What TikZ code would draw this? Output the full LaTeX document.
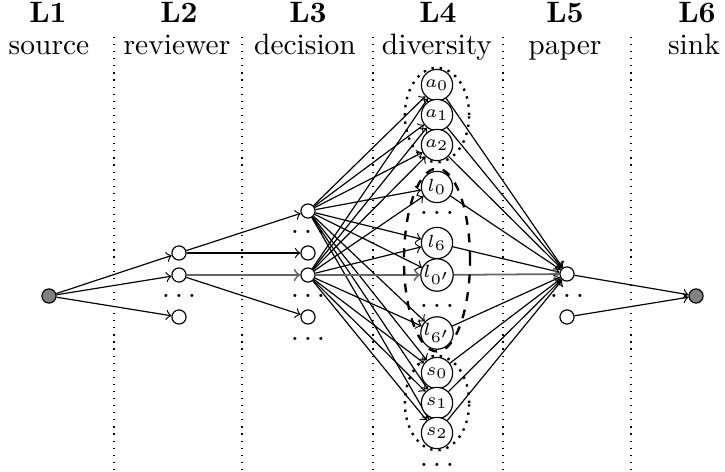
\documentclass[tikz,border=0pt]{standalone}
\usetikzlibrary{backgrounds}
\begin{document}
\begin{tikzpicture}[x=0.339pt,y=-0.339pt,
  big/.style={circle,draw,fill=white,minimum size=10.6pt,inner sep=0pt,font=\fontsize{5.6}{6.5}\selectfont},
  small/.style={circle,draw,fill=white,minimum size=4.8pt,inner sep=0pt},
  term/.style={small,fill=gray},
  edge/.style={->},
  hot/.style={->,draw=black!60,line width=0.6pt},
  sepline/.style={dotted},
  dotsn/.style={inner sep=0pt},
  head/.style={anchor=base,font=\bfseries},
  sub/.style={anchor=base},
  grpdot/.style={dotted,thick},
  grpdash/.style={dashed,thick}]
\useasboundingbox (0,0) rectangle (725,472);
% headers
\node[head] (h1) at (48,23) {L1};
\node[head] (h2) at (179,23) {L2};
\node[head] (h3) at (308,23) {L3};
\node[head] (h4) at (438,23) {L4};
\node[head] (h5) at (565,23) {L5};
\node[head] (h6) at (697,23) {L6};
\node[sub] (t1) at (49,55) {source};
\node[sub] (t2) at (177,55) {reviewer};
\node[sub] (t3) at (305,55) {decision};
\node[sub] (t4) at (437,55) {diversity};
\node[sub] (t5) at (565,55) {paper};
\node[sub] (t6) at (694,55) {sink};
% nodes
\node[term] (src) at (49,296) {};
\node[small] (r1) at (179,253) {};
\node[small] (r2) at (179,275) {};
\node[dotsn] (rd) at (179,296) {$\ldots$};
\node[small] (r3) at (179,317) {};
\node[small] (d1) at (308,211) {};
\node[dotsn] (dd1) at (308,232) {$\ldots$};
\node[small] (d2) at (308,253) {};
\node[small] (d3) at (308,275) {};
\node[dotsn] (dd2) at (308,296) {$\ldots$};
\node[small] (d4) at (308,317) {};
\node[dotsn] (dd3) at (308,339) {$\ldots$};
\node[big] (a0) at (437,85) {$a_0$};
\node[big] (a1) at (437,115) {$a_1$};
\node[big] (a2) at (437,145) {$a_2$};
\node[big] (l0) at (437,187) {$l_0$};
\node[dotsn] (ld1) at (437,213) {$\ldots$};
\node[big] (l6) at (437,243) {$l_6$};
\node[big] (l0p) at (437,275) {$l_{0'}$};
\node[dotsn] (ld2) at (437,306) {$\ldots$};
\node[big] (l6p) at (437,333) {$l_{6'}$};
\node[big] (s0) at (437,373) {$s_0$};
\node[big] (s1) at (437,403) {$s_1$};
\node[big] (s2) at (437,433) {$s_2$};
\node[dotsn] (sd) at (437,465) {$\ldots$};
\node[small] (p1) at (567,274) {};
\node[dotsn] (pd) at (567,296) {$\ldots$};
\node[small] (p2) at (567,317) {};
\node[term] (snk) at (696,296) {};
\begin{scope}[on background layer]
% separators
\foreach \x in {114,242,373,503,631}
  \draw[sepline] (\x,37) -- (\x,472);
% edges
\draw[edge] (src) -- (r1);
\draw[edge] (src) -- (r2);
\draw[edge] (src) -- (r3);
\draw[edge] (r1) -- (d1);
\draw[edge] (r1) -- (d2);
\draw[hot] (r2) -- (d3);
\draw[edge] (r2) -- (d4);
\foreach \n in {a0,a1,a2,l0,l6,l0p,l6p,s0,s1,s2}{
  \draw[edge] (d1) -- (\n);
}
\foreach \n in {a0,a1,a2,l0,l6,l6p,s0,s1,s2}{
  \draw[edge] (d3) -- (\n);
  \draw[edge] (\n) -- (p1);
}
\draw[hot] (d3) -- (l0p);
\draw[hot] (l0p) -- (p1);
\draw[edge] (p1) -- (snk);
\draw[edge] (p2) -- (snk);
% groups
\draw[grpdot] (437,115) ellipse [x radius=10.9pt, y radius=16pt];
\draw[grpdash] (437,260) ellipse [x radius=11.2pt, y radius=31pt];
\draw[grpdot] (437,403) ellipse [x radius=10.9pt, y radius=16pt];
\end{scope}
\end{tikzpicture}
\end{document}
